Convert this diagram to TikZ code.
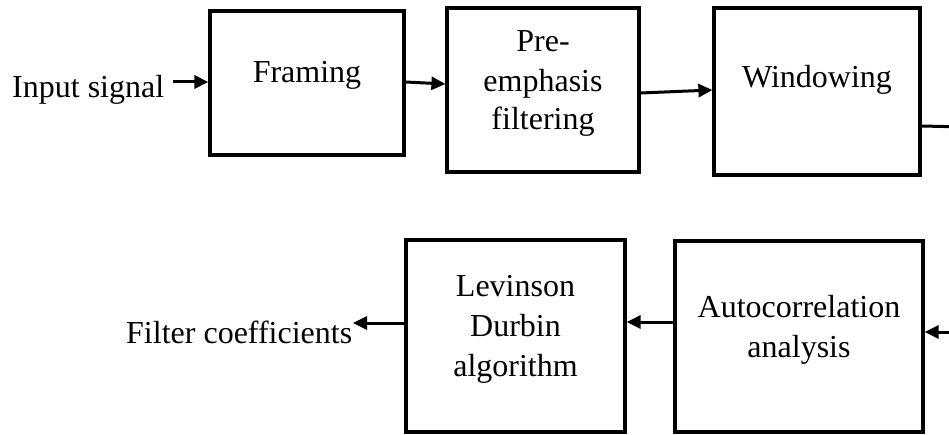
\documentclass[tikz,border=0pt]{standalone}
\usepackage{fontspec}
\setmainfont{Liberation Serif}
\usetikzlibrary{arrows.meta}
\begin{document}
\begin{tikzpicture}[x=1pt,y=-1pt,
  blk/.style={draw=black, line width=3.2pt, rectangle, inner sep=0pt},
  txt/.style={inner sep=0pt, anchor=base, font=\fontsize{32pt}{40pt}\selectfont},
  arr/.style={draw=black, line width=3pt, -{Triangle[length=14pt,width=13pt]}},
  ln/.style={draw=black, line width=3pt}]
\useasboundingbox (0,0) rectangle (949,435);
% boxes
\node[blk, minimum width=194pt, minimum height=144pt] (framing) at (307,83) {};
\node[blk, minimum width=192pt, minimum height=164pt] (pre) at (543,90) {};
\node[blk, minimum width=206pt, minimum height=167pt] (win) at (817,91.5) {};
\node[blk, minimum width=248pt, minimum height=191pt] (auto) at (799,336.5) {};
\node[blk, minimum width=219pt, minimum height=192pt] (lev) at (515.5,336) {};
% box texts
\node[txt] (framingT) at (307,83) {Framing};
\node[txt] (preT1) at (543,52) {Pre-};
\node[txt] (preT2) at (543,92) {emphasis};
\node[txt] (preT3) at (543,130) {filtering};
\node[txt] (winT) at (817,88) {Windowing};
\node[txt] (autoT1) at (799,317) {Autocorrelation};
\node[txt] (autoT2) at (799,357) {analysis};
\node[txt] (levT1) at (515.5,296) {Levinson};
\node[txt] (levT2) at (515.5,336) {Durbin};
\node[txt] (levT3) at (515.5,376) {algorithm};
% outer labels
\node[txt, anchor=base west] (input) at (12,98) {Input signal};
\node[txt, anchor=base west] (filt) at (126,343) {Filter coefficients};
% free ends
\coordinate (inS) at (173,82);
\coordinate (wOut) at (965,127);
\coordinate (aIn) at (965,332);
\coordinate (fOut) at (353,323);
% connectors
\draw[arr] (inS) -- ([yshift=1pt]framing.west);
\draw[arr] ([yshift=1pt]framing.east) -- ([yshift=6pt]pre.west);
\draw[arr] ([yshift=-3pt]pre.east) -- ([yshift=1.5pt]win.west);
\draw[ln] ([yshift=-34.5pt]win.east) -- (wOut);
\draw[arr] (aIn) -- ([yshift=4.5pt]auto.east);
\draw[arr] ([yshift=14.5pt]auto.west) -- ([yshift=14pt]lev.east);
\draw[arr] ([yshift=13pt]lev.west) -- (fOut);
\end{tikzpicture}
\end{document}
